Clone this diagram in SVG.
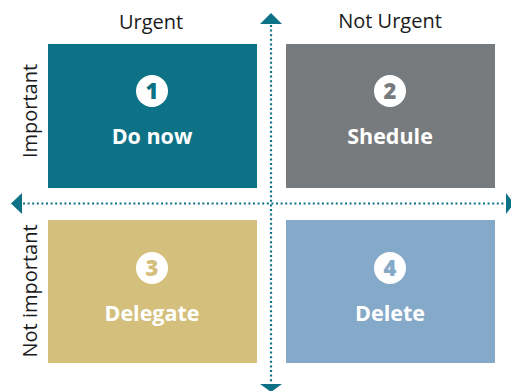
<svg xmlns="http://www.w3.org/2000/svg" width="511" height="391" viewBox="0 0 511 391">
<style>
.hdr{font-family:"Open Sans","Noto Sans",sans-serif;font-size:20px;fill:#1a1a1a;text-anchor:middle}
.lbl{font-family:"Open Sans","Noto Sans",sans-serif;font-size:21.5px;font-weight:bold;fill:#ffffff;text-anchor:middle}
.num{font-family:"Open Sans","Noto Sans",sans-serif;font-size:22px;font-weight:800;text-anchor:middle}
.axis{stroke:#0e7287;stroke-width:2.2;stroke-dasharray:2 2.6;fill:none}
.head{fill:#0e7287}
</style>
<rect width="511" height="391" fill="#ffffff"/>
<g id="connectors">
<line class="axis" x1="271" y1="25" x2="271" y2="383"/>
<line class="axis" x1="23" y1="203.5" x2="505" y2="203.5"/>
<polygon class="head" points="271,13 282,24 260,24"/>
<polygon class="head" points="271,392 282,384 260,384"/>
<polygon class="head" points="11,203.5 22,193 22,214"/>
<polygon class="head" points="514,203.5 506,193 506,214"/>
</g>
<g id="header-urgent"><text class="hdr" x="151" y="29">Urgent</text></g>
<g id="header-not-urgent"><text class="hdr" x="390" y="28">Not Urgent</text></g>
<g id="side-important"><text class="hdr" transform="translate(37,111) rotate(-90)">Important</text></g>
<g id="side-not-important"><text class="hdr" transform="translate(37,291) rotate(-90)">Not important</text></g>
<g id="q1">
<rect x="48" y="44" width="209" height="144" fill="#0e7287"/>
<circle cx="152" cy="91" r="16" fill="#ffffff"/>
<text class="num" x="152" y="99" fill="#0e7287">1</text>
<text class="lbl" x="152" y="144">Do now</text>
</g>
<g id="q2">
<rect x="286" y="44" width="209" height="144" fill="#787b7e"/>
<circle cx="390" cy="91" r="16" fill="#ffffff"/>
<text class="num" x="390" y="99" fill="#787b7e">2</text>
<text class="lbl" x="390" y="144">Shedule</text>
</g>
<g id="q3">
<rect x="48" y="220" width="209" height="143" fill="#d4c07c"/>
<circle cx="152" cy="268" r="16" fill="#ffffff"/>
<text class="num" x="152" y="276" fill="#d4c07c">3</text>
<text class="lbl" x="152" y="321">Delegate</text>
</g>
<g id="q4">
<rect x="286" y="220" width="209" height="143" fill="#85a9c8"/>
<circle cx="390" cy="268" r="16" fill="#ffffff"/>
<text class="num" x="390" y="276" fill="#85a9c8">4</text>
<text class="lbl" x="390" y="321">Delete</text>
</g>
</svg>
